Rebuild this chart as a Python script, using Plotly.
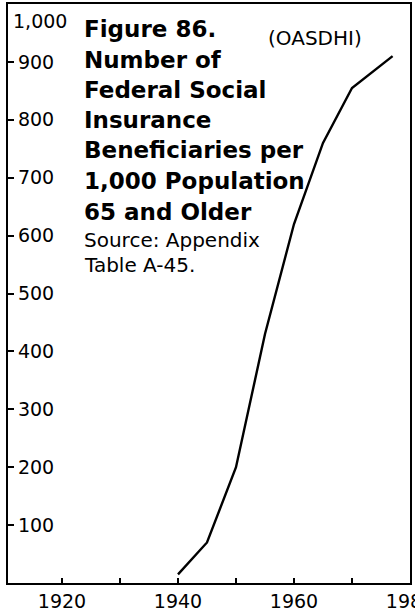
import plotly.graph_objects as go

# ---- data ----
years = [1940, 1945, 1950, 1955, 1960, 1965, 1970, 1977]
beneficiaries = [15, 70, 200, 430, 620, 760, 855, 910]

x_tick_vals = [1920, 1930, 1940, 1950, 1960, 1970, 1980]
x_tick_text = ["1920", "", "1940", "", "1960", "", "1980"]
y_tick_vals = [100, 200, 300, 400, 500, 600, 700, 800, 900]
y_tick_text = ["100", "200", "300", "400", "500", "600", "700", "800", "900"]

title_lines = ["Figure 86.", "Number of", "Federal Social", "Insurance",
               "Beneficiaries per", "1,000 Population", "65 and Older"]
source_lines = ["Source: Appendix", "Table A-45."]
series_tag = "(OASDHI)"

# ---- layout geometry (pixels) ----
W, H = 415, 615
L, R, T, B = 8, 5, 4, 32
PW, PH = W - L - R, H - T - B
FONT = "DejaVu Sans"


def px_x(px):
    return (px - L) / PW


def px_y(py):
    return (H - B - py) / PH


fig = go.Figure()
fig.add_trace(go.Scatter(
    x=years, y=beneficiaries, mode="lines",
    line=dict(color="black", width=2.4), hoverinfo="skip", showlegend=False))

annotations = []
title_centers = [29, 59.5, 90, 120, 150.5, 181, 211.5]
for txt, cy in zip(title_lines, title_centers):
    annotations.append(dict(
        text="<b>" + txt + "</b>", x=px_x(82), y=px_y(cy), xref="paper", yref="paper",
        xanchor="left", yanchor="middle", showarrow=False,
        font=dict(family=FONT, size=23, color="black")))
for txt, cy in zip(source_lines, [240, 265]):
    annotations.append(dict(
        text=txt, x=px_x(82), y=px_y(cy), xref="paper", yref="paper",
        xanchor="left", yanchor="middle", showarrow=False,
        font=dict(family=FONT, size=20, color="black")))
annotations.append(dict(
    text=series_tag, x=px_x(266), y=px_y(38), xref="paper", yref="paper",
    xanchor="left", yanchor="middle", showarrow=False,
    font=dict(family=FONT, size=20, color="black")))
annotations.append(dict(
    text="1,000", x=px_x(11), y=px_y(21), xref="paper", yref="paper",
    xanchor="left", yanchor="middle", showarrow=False,
    font=dict(family=FONT, size=19, color="black")))

fig.update_layout(
    width=W, height=H,
    margin=dict(l=L, r=R, t=T, b=B, pad=0, autoexpand=False),
    paper_bgcolor="white", plot_bgcolor="white",
    font=dict(family=FONT, color="black"),
    annotations=annotations,
    xaxis=dict(
        range=[1920 - (62 - L) / 5.8, 1980], tickvals=x_tick_vals, ticktext=x_tick_text,
        ticks="inside", ticklen=5, tickwidth=1.5, tickcolor="black", automargin=False,
        ticklabeloverflow="allow",
        showline=True, linecolor="black", linewidth=1.5, mirror=True,
        showgrid=False, zeroline=False, tickfont=dict(family=FONT, size=19, color="black")),
    yaxis=dict(
        range=[0, 1000], tickvals=y_tick_vals, ticktext=y_tick_text,
        ticks="inside", ticklen=6, tickwidth=1.5, tickcolor="black", automargin=False,
        ticklabelposition="inside", ticklabelstandoff=5,
        showline=True, linecolor="black", linewidth=1.5, mirror=True,
        showgrid=False, zeroline=False, tickfont=dict(family=FONT, size=19, color="black")),
)

fig.write_html(
    "out.html",
    config={"displayModeBar": False},
    post_script="document.body.style.margin='0';document.body.style.padding='0';",
)
